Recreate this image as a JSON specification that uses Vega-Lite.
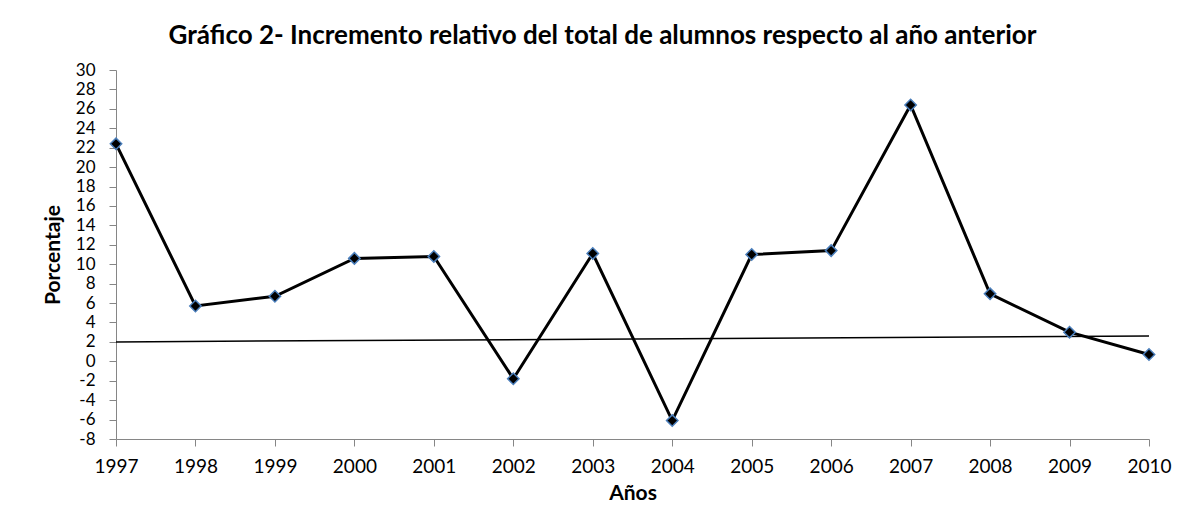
{
  "$schema": "https://vega.github.io/schema/vega-lite/v6.json",
  "width": 1033,
  "height": 369,
  "autosize": {"type": "none"},
  "padding": {"left": 116, "top": 70, "right": 28, "bottom": 73},
  "background": "white",
  "config": {
    "font": "Lato",
    "view": {"stroke": null},
    "axis": {"grid": false, "domainColor": "#868686", "tickColor": "#868686", "labelColor": "#000000", "titleColor": "#000000", "labelFont": "Lato", "titleFont": "Lato", "labelOverlap": false, "labelFlush": false}
  },
  "title": {
    "text": "Gráfico 2- Incremento relativo del total de alumnos respecto al año anterior",
    "fontSize": 26,
    "fontWeight": "bold",
    "font": "Lato",
    "color": "#000000",
    "anchor": "middle",
    "dx": -30,
    "offset": 12
  },
  "datasets": {
    "serie": [
      {"anio": 1997, "valor": 22.4},
      {"anio": 1998, "valor": 5.7},
      {"anio": 1999, "valor": 6.7},
      {"anio": 2000, "valor": 10.6},
      {"anio": 2001, "valor": 10.8},
      {"anio": 2002, "valor": -1.8},
      {"anio": 2003, "valor": 11.1},
      {"anio": 2004, "valor": -6.1},
      {"anio": 2005, "valor": 11.0},
      {"anio": 2006, "valor": 11.4},
      {"anio": 2007, "valor": 26.4},
      {"anio": 2008, "valor": 6.95},
      {"anio": 2009, "valor": 3.0},
      {"anio": 2010, "valor": 0.7}
    ],
    "tendencia": [
      {"anio": 1997, "valor": 2.0},
      {"anio": 2010, "valor": 2.6}
    ]
  },
  "encoding": {
    "x": {
      "field": "anio", "type": "quantitative",
      "scale": {"domain": [1997, 2010], "nice": false, "zero": false},
      "axis": {"values": [1997,1998,1999,2000,2001,2002,2003,2004,2005,2006,2007,2008,2009,2010], "format": "d", "title": "Años", "labelFontSize": 19, "labelPadding": 11, "tickSize": 7, "titleFontSize": 21, "titleFontWeight": "bold", "titlePadding": 6}
    },
    "y": {
      "field": "valor", "type": "quantitative",
      "scale": {"domain": [-8, 30], "nice": false, "zero": false},
      "axis": {"values": [-8,-6,-4,-2,0,2,4,6,8,10,12,14,16,18,20,22,24,26,28,30], "labelExpr": "datum.value < 0 ? '-' + abs(datum.value) : '' + datum.value", "title": "Porcentaje", "labelFontSize": 17, "labelPadding": 14, "tickSize": 7, "titleFontSize": 21, "titleFontWeight": "bold", "titlePadding": 12, "labelBaseline": "middle"}
    }
  },
  "layer": [
    {
      "data": {"name": "tendencia"},
      "mark": {"type": "line", "color": "#000000", "strokeWidth": 1.5}
    },
    {
      "data": {"name": "serie"},
      "mark": {"type": "line", "color": "#000000", "strokeWidth": 3}
    },
    {
      "data": {"name": "serie"},
      "mark": {"type": "point", "shape": "diamond", "filled": true, "fill": "#000000", "stroke": "#4a7ebb", "strokeWidth": 1.5, "size": 130, "opacity": 1}
    }
  ]
}
